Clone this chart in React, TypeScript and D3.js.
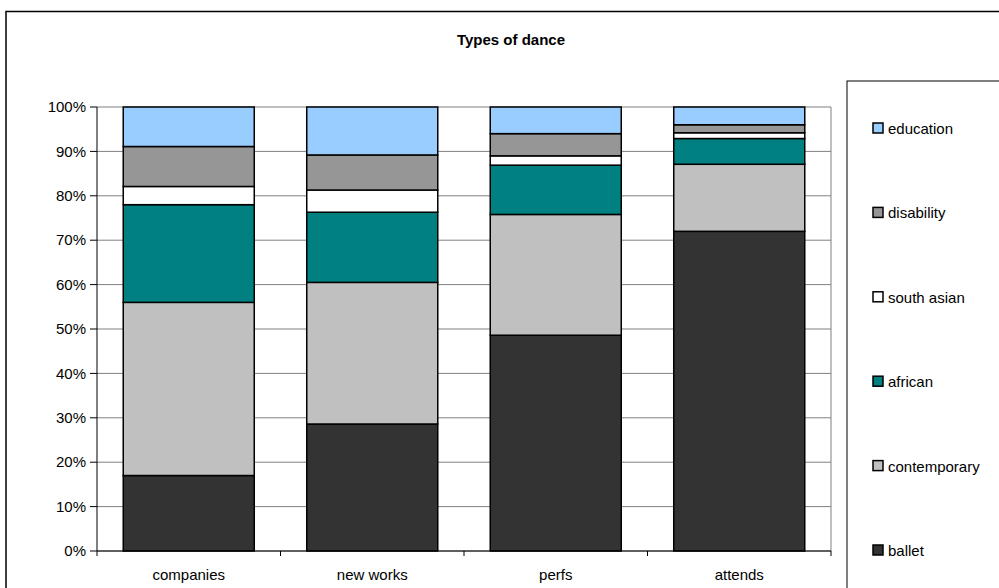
import React from "react";
import * as d3 from "d3";

const categories = ["companies", "new works", "perfs", "attends"];
const seriesNames = ["ballet", "contemporary", "african", "south asian", "disability", "education"];
const seriesColors = ["#333333", "#C0C0C0", "#008080", "#FFFFFF", "#969696", "#99CCFF"];
const ballet = [17.0, 28.6, 48.6, 72.0];
const contemporary = [39.0, 31.9, 27.2, 15.1];
const african = [22.0, 15.8, 11.1, 5.8];
const southAsian = [4.1, 5.0, 2.1, 1.3];
const disability = [9.0, 7.9, 5.0, 1.8];
const education = [8.9, 10.8, 6.0, 4.0];
const yTicks = [0, 0.1, 0.2, 0.3, 0.4, 0.5, 0.6, 0.7, 0.8, 0.9, 1.0];
const title = "Types of dance";

const FONT = "Arial, 'Liberation Sans', sans-serif";

export default function App() {
  const W = 999, H = 588;
  const left = 97, right = 831, top = 107, bottom = 551;
  const seriesValues = [ballet, contemporary, african, southAsian, disability, education];
  const rows = categories.map((c, i) => {
    const o: any = { cat: c };
    seriesNames.forEach((s, j) => (o[s] = seriesValues[j][i]));
    return o;
  });
  const stacked = d3.stack().keys(seriesNames).offset(d3.stackOffsetExpand)(rows);
  const x = d3.scaleBand().domain(categories).range([left, right]).paddingInner(0.286).paddingOuter(0.143);
  const xb = d3.scaleBand().domain(categories).range([left, right]);
  const y = d3.scaleLinear().domain([0, 1]).range([bottom, top]);
  const fmt = d3.format(".0%");

  const legendX = 873;
  const legendY = d3.scalePoint().domain([...seriesNames].reverse()).range([128, 550]);

  return (
    <svg width={W} height={H} style={{ position: "absolute", left: 0, top: 0, background: "#fff" }} fontFamily={FONT}>
      <rect x={6} y={11.5} width={1200} height={800} fill="#fff" stroke="#000" strokeWidth={1.5} />
      <text x={511} y={45} textAnchor="middle" fontSize={15} fontWeight="bold" fill="#000">{title}</text>
      {/* gridlines */}
      {yTicks.map((t) => (
        <line key={"g" + t} x1={left} x2={right} y1={y(t)} y2={y(t)} stroke="#808080" strokeWidth={1} />
      ))}
      <line x1={right} x2={right} y1={top} y2={bottom} stroke="#808080" strokeWidth={1} />
      {/* bars */}
      {stacked.map((s, j) => (
        <g key={s.key}>
          {s.map((d, i) => (
            <rect key={i} x={x(categories[i])} width={x.bandwidth()} y={y(d[1])} height={y(d[0]) - y(d[1])}
              fill={seriesColors[j]} stroke="#000" strokeWidth={1.5} />
          ))}
        </g>
      ))}
      {/* y axis */}
      <line x1={left} x2={left} y1={top} y2={bottom} stroke="#000" strokeWidth={1} />
      {yTicks.map((t) => (
        <g key={"t" + t}>
          <line x1={left - 7} x2={left} y1={y(t)} y2={y(t)} stroke="#000" strokeWidth={1} />
          <text x={86} y={y(t)} dy="0.35em" textAnchor="end" fontSize={15} fill="#000">{fmt(t)}</text>
        </g>
      ))}
      {/* x axis */}
      <line x1={left} x2={right} y1={bottom} y2={bottom} stroke="#000" strokeWidth={1} />
      {[...categories.map((c) => xb(c) as number), right].map((v, i) => (
        <line key={"xt" + i} x1={v} x2={v} y1={bottom} y2={bottom + 5} stroke="#000" strokeWidth={1} />
      ))}
      {categories.map((c) => (
        <text key={c} x={(xb(c) as number) + xb.bandwidth() / 2} y={580} textAnchor="middle" fontSize={15} fill="#000">{c}</text>
      ))}
      {/* legend */}
      <rect x={847} y={81} width={300} height={600} fill="#fff" stroke="#000" strokeWidth={1} />
      {seriesNames.map((s, j) => (
        <g key={"l" + s}>
          <rect x={legendX} y={(legendY(s) as number) - 5} width={10} height={10} fill={seriesColors[j]} stroke="#000" strokeWidth={1.5} />
          <text x={888} y={(legendY(s) as number) + 6} fontSize={15} fill="#000">{s}</text>
        </g>
      ))}
    </svg>
  );
}
